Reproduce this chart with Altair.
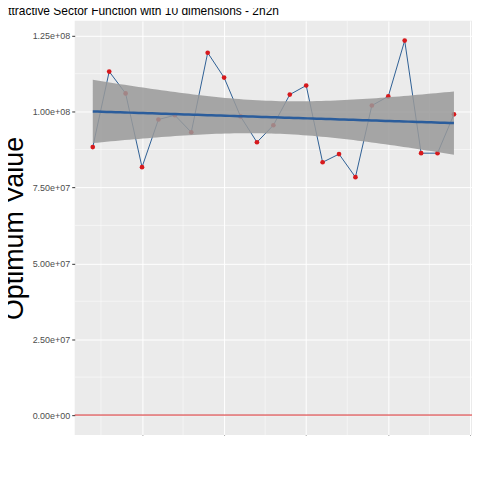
import altair as alt
import numpy as np
import pandas as pd

sizes = list(range(2, 25))
values = [88.3e6, 113.2e6, 106.0e6, 81.7e6, 97.4e6, 98.8e6, 93.2e6, 119.4e6,
          111.2e6, 98.4e6, 89.9e6, 95.5e6, 105.6e6, 108.6e6, 83.3e6, 86.0e6,
          78.4e6, 102.0e6, 105.0e6, 123.4e6, 86.3e6, 86.3e6, 99.1e6]

df = pd.DataFrame({"x": sizes, "y": values})

# linear fit with 95% confidence band (like geom_smooth(method="lm"))
x = np.array(sizes, float)
y = np.array(values)
n = len(x)
b, a = np.polyfit(x, y, 1)
resid = y - (a + b * x)
s = np.sqrt((resid ** 2).sum() / (n - 2))
xs = np.linspace(x.min(), x.max(), 80)
se = s * np.sqrt(1 / n + (xs - x.mean()) ** 2 / ((x - x.mean()) ** 2).sum())
fit = a + b * xs
band = pd.DataFrame({"x": xs, "fit": fit, "lo": fit - 2.074 * se, "hi": fit + 2.074 * se})

xsc = alt.Scale(domain=[0.9, 25.1], nice=False, zero=False)
ysc = alt.Scale(domain=[-6.6e6, 129.9e6], nice=False)

X = alt.X("x:Q", scale=xsc, title="Tournament size",
          axis=alt.Axis(values=[5, 10, 15, 20, 25]))
Y = alt.Y("y:Q", scale=ysc, title="Optimum Value",
          axis=alt.Axis(values=[0, 2.5e7, 5e7, 7.5e7, 1e8, 1.25e8],
                        labelExpr="replace(format(datum.value, '.2e'), 'e+', 'e+0')"))

# minor grid lines as in ggplot
minor_x = pd.DataFrame({"x": [2.5, 7.5, 12.5, 17.5, 22.5]})
minor_y = pd.DataFrame({"y": [1.25e7, 3.75e7, 6.25e7, 8.75e7, 1.125e8]})
gx = alt.Chart(minor_x).mark_rule(color="white", strokeWidth=0.5).encode(x=alt.X("x:Q", scale=xsc))
gy = alt.Chart(minor_y).mark_rule(color="white", strokeWidth=0.5).encode(y=alt.Y("y:Q", scale=ysc))

line = alt.Chart(df).mark_line(color="#2d5f94", strokeWidth=1).encode(x=X, y=Y)
pts = alt.Chart(df).mark_circle(color="#d7191c", opacity=1, size=22).encode(x=X, y=Y)
zero = alt.Chart(pd.DataFrame({"y": [0]})).mark_rule(color="#d62728", strokeWidth=1).encode(y=alt.Y("y:Q", scale=ysc))
area = alt.Chart(band).mark_area(color="#999999", opacity=0.85).encode(
    x=alt.X("x:Q", scale=xsc), y=alt.Y("lo:Q", scale=ysc), y2="hi:Q")
reg = alt.Chart(band).mark_line(color="#2b5d9c", strokeWidth=2.5).encode(
    x=alt.X("x:Q", scale=xsc), y=alt.Y("fit:Q", scale=ysc))

chart = alt.layer(gx, gy, zero, line, pts, area, reg).properties(
    width=399, height=416,
    autosize=alt.AutoSizeParams(type="none"),
    padding={"left": 67, "top": 12, "right": 0, "bottom": 0},
    title=alt.TitleParams("Attractive Sector Function with 10 dimensions -  2n2n",
                          anchor="start", fontSize=12, fontWeight="normal",
                          font="Liberation Sans", offset=3),
).configure_view(fill="#ebebeb", stroke=None).configure_axis(
    gridColor="white", domain=False, tickColor="#333333", tickSize=3,
    labelColor="#4d4d4d", labelFontSize=9, labelFont="Liberation Sans",
    titleFont="Liberation Sans", titleFontSize=27, titleFontWeight="normal",
    titleColor="black",
)

chart.save("out.html", embed_options={"renderer": "svg", "actions": False})
